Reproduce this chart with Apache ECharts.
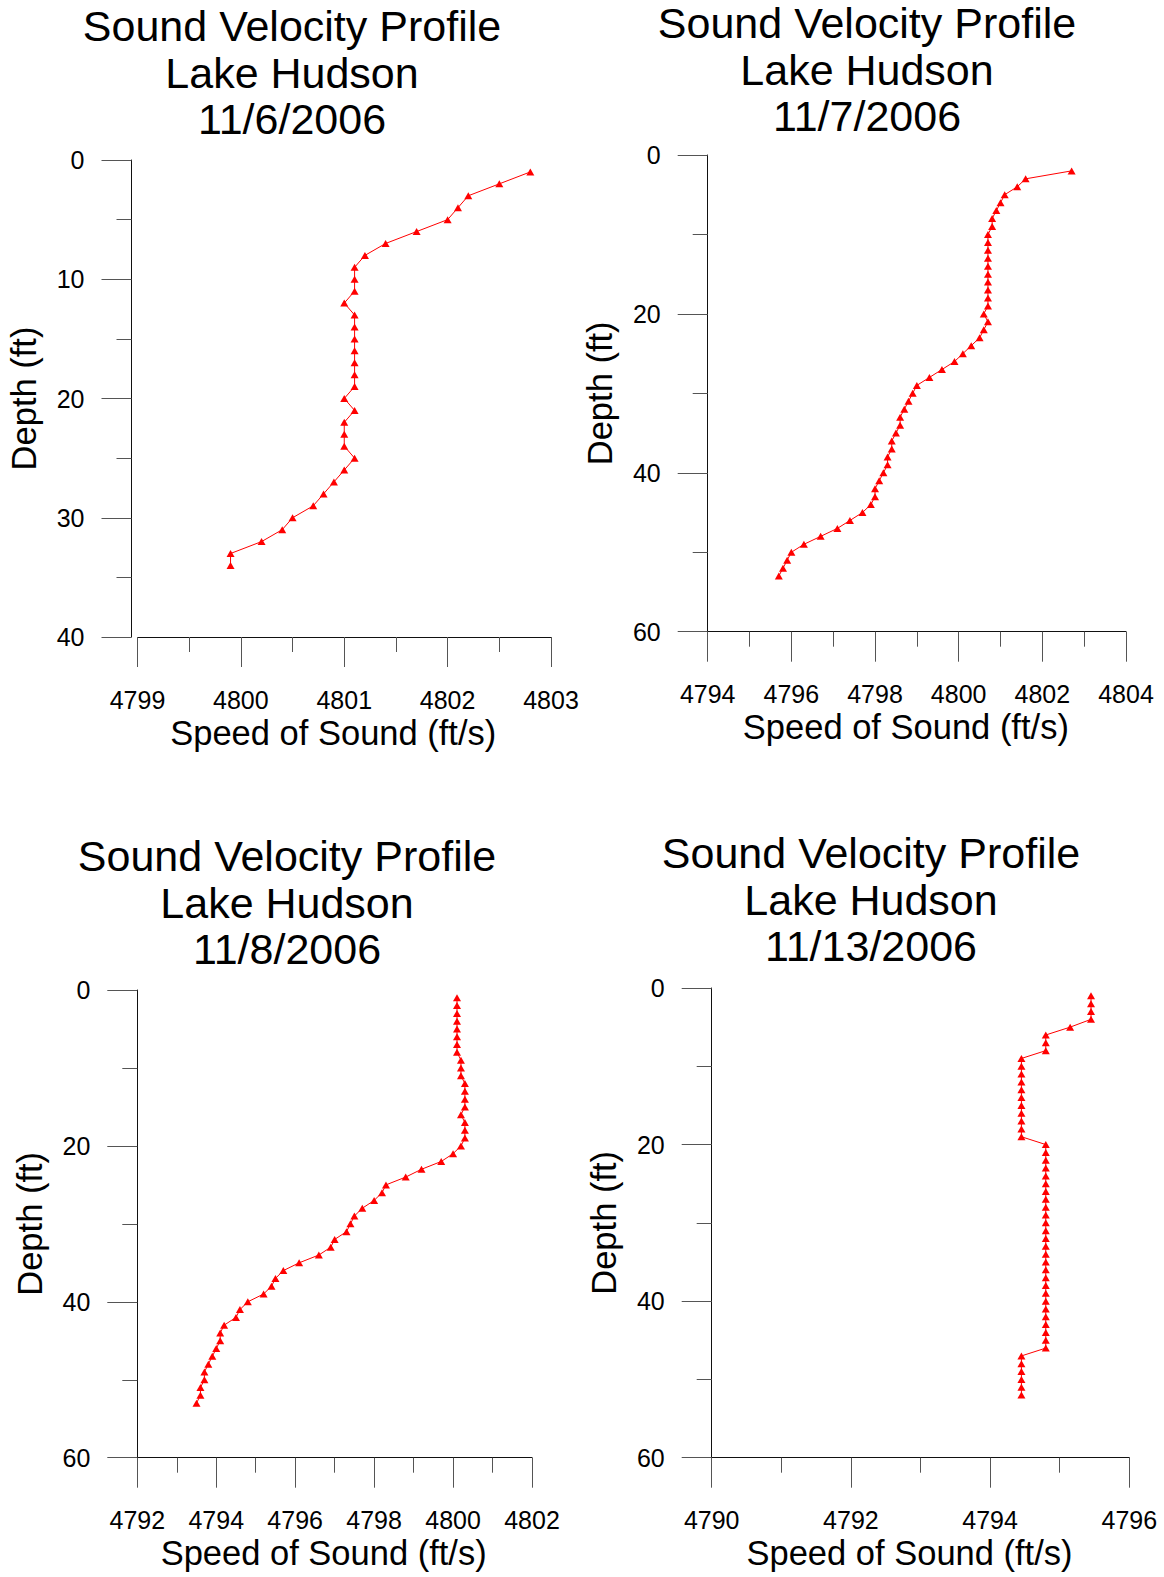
<!DOCTYPE html>
<html>
<head>
<meta charset="utf-8">
<title>Sound Velocity Profile - Lake Hudson</title>
<script src="https://cdn.jsdelivr.net/npm/echarts@6/dist/echarts.min.js"></script>
<style>
  html, body { margin: 0; padding: 0; background: #fff; }
  #chart { width: 1164px; height: 1577px; }
</style>
</head>
<body>
<div id="chart"></div>
<script>
// 11/6/2006
const depth1 = [1, 2, 3, 4, 5, 6, 7, 8, 9, 10, 11, 12, 13, 14, 15, 16, 17, 18, 19, 20,
  21, 22, 23, 24, 25, 26, 27, 28, 29, 30, 31, 32, 33, 34]
const speed1 = [4802.8, 4802.5, 4802.2, 4802.1, 4802.0, 4801.7, 4801.4, 4801.2, 4801.1, 4801.1,
  4801.1, 4801.0, 4801.1, 4801.1, 4801.1, 4801.1, 4801.1, 4801.1, 4801.1, 4801.0,
  4801.1, 4801.0, 4801.0, 4801.0, 4801.1, 4801.0, 4800.9, 4800.8, 4800.7, 4800.5,
  4800.4, 4800.2, 4799.9, 4799.9]

// 11/7/2006
const depth2 = [2, 3, 4, 5, 6, 7, 8, 9, 10, 11, 12, 13, 14, 15, 16, 17, 18, 19, 20,
  21, 22, 23, 24, 25, 26, 27, 28, 29, 30, 31, 32, 33, 34, 35, 36, 37, 38, 39, 40,
  41, 42, 43, 44, 45, 46, 47, 48, 49, 50, 51, 52, 53]
const speed2 = [4802.7, 4801.6, 4801.4, 4801.1, 4801.0, 4800.9, 4800.8, 4800.8, 4800.7,
  4800.7, 4800.7, 4800.7, 4800.7, 4800.7, 4800.7, 4800.7, 4800.7, 4800.7, 4800.6,
  4800.7, 4800.6, 4800.5, 4800.3, 4800.1, 4799.9, 4799.6, 4799.3, 4799.0, 4798.9,
  4798.8, 4798.7, 4798.6, 4798.6, 4798.5, 4798.4, 4798.4, 4798.3, 4798.3, 4798.2,
  4798.1, 4798.0, 4798.0, 4797.9, 4797.7, 4797.4, 4797.1, 4796.7, 4796.3, 4796.0,
  4795.9, 4795.8, 4795.7]

// 11/8/2006
const depth3 = [1, 2, 3, 4, 5, 6, 7, 8, 9, 10, 11, 12, 13, 14, 15, 16, 17, 18, 19, 20,
  21, 22, 23, 24, 25, 26, 27, 28, 29, 30, 31, 32, 33, 34, 35, 36, 37, 38, 39, 40,
  41, 42, 43, 44, 45, 46, 47, 48, 49, 50, 51, 52, 53]
const speed3 = [4800.1, 4800.1, 4800.1, 4800.1, 4800.1, 4800.1, 4800.1, 4800.1, 4800.2, 4800.2,
  4800.2, 4800.3, 4800.3, 4800.3, 4800.3, 4800.2, 4800.3, 4800.3, 4800.3, 4800.2,
  4800.0, 4799.7, 4799.2, 4798.8, 4798.3, 4798.2, 4798.0, 4797.7, 4797.5, 4797.4,
  4797.3, 4797.0, 4796.9, 4796.6, 4796.1, 4795.7, 4795.5, 4795.4, 4795.2, 4794.8,
  4794.6, 4794.5, 4794.2, 4794.1, 4794.1, 4794.0, 4793.9, 4793.8, 4793.7, 4793.7,
  4793.6, 4793.6, 4793.5]

// 11/13/2006
const depth4 = [1, 2, 3, 4, 5, 6, 7, 8, 9, 10, 11, 12, 13, 14, 15, 16, 17, 18, 19, 20,
  21, 22, 23, 24, 25, 26, 27, 28, 29, 30, 31, 32, 33, 34, 35, 36, 37, 38, 39, 40,
  41, 42, 43, 44, 45, 46, 47, 48, 49, 50, 51, 52]
const speed4 = [4795.45, 4795.45, 4795.45, 4795.45, 4795.15, 4794.8, 4794.8, 4794.8, 4794.45, 4794.45,
  4794.45, 4794.45, 4794.45, 4794.45, 4794.45, 4794.45, 4794.45, 4794.45, 4794.45, 4794.8,
  4794.8, 4794.8, 4794.8, 4794.8, 4794.8, 4794.8, 4794.8, 4794.8, 4794.8, 4794.8,
  4794.8, 4794.8, 4794.8, 4794.8, 4794.8, 4794.8, 4794.8, 4794.8, 4794.8, 4794.8,
  4794.8, 4794.8, 4794.8, 4794.8, 4794.8, 4794.8, 4794.45, 4794.45, 4794.45, 4794.45,
  4794.45, 4794.45]

const dates = ['11/6/2006', '11/7/2006', '11/8/2006', '11/13/2006']
const xRanges = [[4799, 4803, 1], [4794, 4804, 2], [4792, 4802, 2], [4790, 4796, 2]]
const yRanges = [[0, 40, 10], [0, 60, 20], [0, 60, 20], [0, 60, 20]]

const FONT = "'Liberation Sans', Arial, sans-serif"

const chart = echarts.init(document.getElementById('chart'), null, { renderer: 'svg' })

// grid boxes: left, top, width, height
const boxes = [
  [137.5, 160, 413.5, 477],
  [707.7, 155, 418.3, 476.7],
  [137.3, 990, 394.7, 467.7],
  [711.7, 988, 417.6, 469.7]
]
const titlePos = [[292, 3], [867, 0], [287, 833], [871, 830]]
const yOffsets = [6, 0, 0, 0]

function makeX (i) {
  const r = xRanges[i]
  return {
    type: 'value',
    gridIndex: i,
    min: r[0],
    max: r[1],
    interval: r[2],
    name: 'Speed of Sound (ft/s)',
    nameLocation: 'middle',
    nameGap: 78,
    nameTextStyle: { fontSize: 34.5, color: '#000', fontFamily: FONT, padding: [0, 22, 0, 0] },
    axisLine: { onZero: false, lineStyle: { color: '#111', width: 1 } },
    axisTick: { length: 30, lineStyle: { color: '#555' } },
    minorTick: { show: true, splitNumber: 2, length: 15, lineStyle: { color: '#555' } },
    splitLine: { show: false },
    minorSplitLine: { show: false },
    axisLabel: {
      margin: 50,
      fontSize: 25,
      color: '#000',
      fontFamily: FONT,
      showMinLabel: true,
      showMaxLabel: true,
      formatter: v => String(v)
    }
  }
}

function makeY (i) {
  const r = yRanges[i]
  return {
    type: 'value',
    gridIndex: i,
    inverse: true,
    min: r[0],
    max: r[1],
    interval: r[2],
    offset: yOffsets[i],
    name: 'Depth (ft)',
    nameLocation: 'middle',
    nameGap: 90,
    nameTextStyle: { fontSize: 34.5, color: '#000', fontFamily: FONT },
    axisLine: { show: true, onZero: false, lineStyle: { color: '#111', width: 1 } },
    axisTick: { show: true, length: 30, lineStyle: { color: '#555' } },
    minorTick: { show: true, splitNumber: 2, length: 15, lineStyle: { color: '#555' } },
    splitLine: { show: false },
    minorSplitLine: { show: false },
    axisLabel: {
      margin: 47,
      fontSize: 25,
      color: '#000',
      fontFamily: FONT,
      showMinLabel: true,
      showMaxLabel: true,
      formatter: v => String(v)
    }
  }
}

const speeds = [speed1, speed2, speed3, speed4]
const depths = [depth1, depth2, depth3, depth4]

const option = {
  animation: false,
  backgroundColor: '#fff',
  title: dates.map((d, i) => ({
    text: 'Sound Velocity Profile\nLake Hudson\n' + d,
    left: titlePos[i][0],
    top: titlePos[i][1],
    textAlign: 'center',
    padding: 0,
    textStyle: { fontSize: 43, fontWeight: 'normal', color: '#000', fontFamily: FONT, lineHeight: 46.5 }
  })),
  grid: boxes.map(b => ({
    left: b[0],
    top: b[1],
    width: b[2],
    height: b[3],
    containLabel: false,
    outerBoundsMode: 'none'
  })),
  xAxis: [0, 1, 2, 3].map(makeX),
  yAxis: [0, 1, 2, 3].map(makeY),
  series: speeds.map((s, i) => ({
    type: 'line',
    xAxisIndex: i,
    yAxisIndex: i,
    data: s.map((v, k) => [v, depths[i][k]]),
    symbol: 'triangle',
    symbolSize: [8, 7],
    showAllSymbol: true,
    itemStyle: { color: '#ff0000' },
    lineStyle: { color: '#ff0000', width: 1 }
  }))
}

chart.setOption(option)
</script>
</body>
</html>
